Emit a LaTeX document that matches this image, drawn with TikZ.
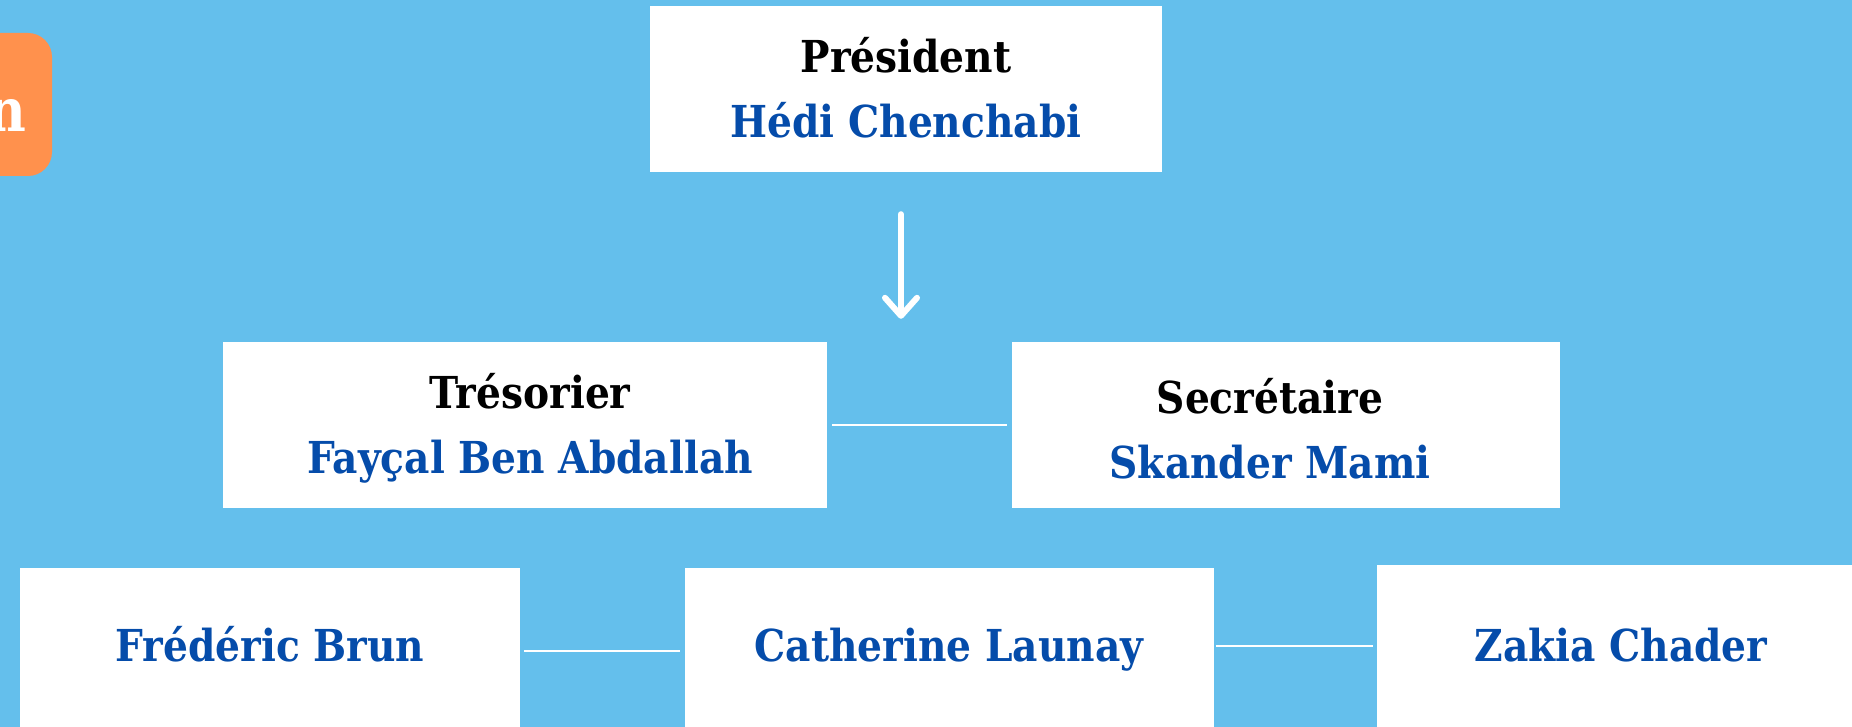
\documentclass[tikz,border=0pt]{standalone}
\usepackage{fontspec}
\setmainfont{DejaVu Serif}[FakeStretch=0.89]
\usetikzlibrary{arrows.meta}
\definecolor{bg}{RGB}{100,191,236}
\definecolor{nameblue}{RGB}{5,76,170}
\definecolor{orng}{RGB}{255,145,77}
\tikzset{
  card/.style={fill=white, draw=none, inner sep=0pt, minimum height=166pt},
  txt/.style={align=center, inner sep=0pt, font=\fontsize{44}{65}\selectfont\bfseries},
  link/.style={draw=white, line width=2pt},
  down/.style={draw=white, line width=6pt, line cap=round,
    -{Straight Barb[length=18pt,width=32pt,line cap=round,line join=round]}}
}
\begin{document}
\begin{tikzpicture}[x=1pt,y=-1pt]
\useasboundingbox (0,0) rectangle (1852,727);
\clip (0,0) rectangle (1852,727);
\fill[bg] (0,0) rectangle (1852,727);
% orange tag at left edge
\fill[orng, rounded corners=24pt] (-60,33) rectangle (52,176);
\node[anchor=base east, inner sep=0pt, text=white,
      font=\fontsize{60}{60}\selectfont\bfseries] (tag) at (27,132) {n};
% boxes
\node[card, minimum width=512pt] (pres) at (906,89) {};
\node[card, minimum width=604pt] (tres) at (525,425) {};
\node[card, minimum width=548pt] (sec) at (1286,425) {};
\node[card, minimum width=500pt] (fred) at (270,651) {};
\node[card, minimum width=529pt] (cath) at (949.5,651) {};
\node[card, minimum width=488pt] (zak) at (1621,648) {};
% texts
\node[txt] (prest) at (906,88) {Président\\\textcolor{nameblue}{Hédi Chenchabi}};
\node[txt] (trest) at (530,428) {Trésorier\\\textcolor{nameblue}{Fayçal Ben Abdallah}};
\node[txt] (sect) at (1270,429) {Secrétaire\\\textcolor{nameblue}{Skander Mami}};
\node[txt, anchor=base, text=nameblue] (fredt) at (270,661) {Frédéric Brun};
\node[txt, anchor=base, text=nameblue] (catht) at (949,661) {Catherine Launay};
\node[txt, anchor=base, text=nameblue] (zakt) at (1621,661) {Zakia Chader};
% connectors
\draw[down, shorten <=42pt, shorten >=23pt] ([xshift=-5pt]pres.south) -- ([xshift=-5pt]pres.south |- tres.north);
\draw[link, shorten <=5pt, shorten >=5pt] (tres.east) -- (sec.west);
\draw[link, shorten <=4pt, shorten >=5pt] (fred.east) -- (cath.west);
\draw[link, shorten <=2pt, shorten >=4pt] ([yshift=5pt]cath.east) -- ([yshift=5pt]cath.east -| zak.west);
\end{tikzpicture}
\end{document}
